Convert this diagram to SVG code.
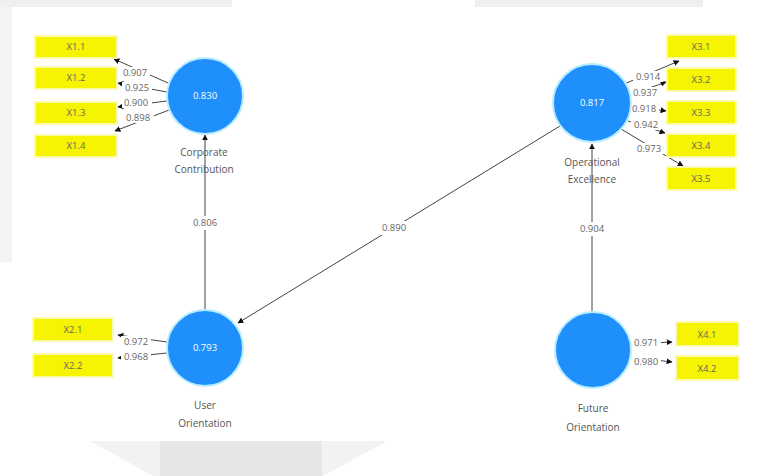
<svg xmlns="http://www.w3.org/2000/svg" width="763" height="476" viewBox="0 0 763 476">
<defs>
<style>
.bg{fill:#efefef}
.lv{fill:#1e8ffb;stroke:#b8ecff;stroke-width:2}
.ind{fill:#f6f400;stroke:#fbfbb0;stroke-width:2}
.t{font-family:"Open Sans","Liberation Sans",sans-serif;font-size:9.5px;fill:#666;text-anchor:middle}
.w{font-family:"Open Sans","Liberation Sans",sans-serif;font-size:9.5px;fill:#ffffff;text-anchor:middle}
.n{font-family:"Open Sans","Liberation Sans",sans-serif;font-size:10px;fill:#555;text-anchor:middle}
.c{stroke:#444;stroke-width:1;fill:none;marker-end:url(#ah)}
.lb{fill:#ffffff}
</style>
<marker id="ah" viewBox="0 0 10 10" refX="9" refY="5" markerWidth="6" markerHeight="6" orient="auto" markerUnits="userSpaceOnUse">
<path d="M0,0 L10,5 L0,10 z" fill="#111"/>
</marker>
</defs>
<rect x="0" y="0" width="763" height="476" fill="#ffffff"/>
<rect class="bg" x="0" y="0" width="232" height="7"/>
<rect class="bg" x="475" y="0" width="228" height="7"/>
<rect x="0" y="7" width="12" height="255" fill="#f4f4f4"/>
<polygon points="90,441 387,441 323,476 153,476" fill="#f2f2f2"/>
<rect x="160" y="441" width="162" height="35" fill="#e6e6e6"/>

<g id="connectors">
<line class="c" x1="205" y1="310" x2="205" y2="135"/>
<line class="c" x1="592" y1="312" x2="592" y2="144"/>
<line class="c" x1="560" y1="126" x2="238" y2="323"/>
<line class="c" x1="168" y1="83" x2="114" y2="59"/>
<line class="c" x1="167" y1="92" x2="118" y2="83"/>
<line class="c" x1="167" y1="101" x2="118" y2="107"/>
<line class="c" x1="169" y1="110" x2="115" y2="131"/>
<line class="c" x1="624" y1="84" x2="679" y2="61"/>
<line class="c" x1="630" y1="95" x2="666" y2="82"/>
<line class="c" x1="631" y1="106" x2="666" y2="111"/>
<line class="c" x1="628" y1="121" x2="665" y2="133"/>
<line class="c" x1="621" y1="129" x2="683" y2="166"/>
<line class="c" x1="167" y1="342" x2="118" y2="335"/>
<line class="c" x1="167" y1="353" x2="118" y2="358"/>
<line class="c" x1="630" y1="344" x2="672" y2="342"/>
<line class="c" x1="630" y1="357" x2="672" y2="362"/>
<rect class="lb" x="190" y="216" width="30" height="14"/>
<text class="t" x="205" y="226">0.806</text>
<rect class="lb" x="577" y="222" width="30" height="14"/>
<text class="t" x="592" y="232">0.904</text>
<rect class="lb" x="379" y="221" width="30" height="14"/>
<text class="t" x="394" y="231">0.890</text>
<rect class="lb" x="120" y="67" width="30" height="11"/>
<text class="t" x="135" y="76">0.907</text>
<rect class="lb" x="122" y="82" width="30" height="11"/>
<text class="t" x="137" y="91">0.925</text>
<rect class="lb" x="122" y="97" width="30" height="11"/>
<text class="t" x="136" y="106">0.900</text>
<rect class="lb" x="124" y="112" width="30" height="11"/>
<text class="t" x="138" y="121">0.898</text>
<rect class="lb" x="633" y="71" width="30" height="11"/>
<text class="t" x="648" y="80">0.914</text>
<rect class="lb" x="630" y="87" width="30" height="11"/>
<text class="t" x="645" y="96">0.937</text>
<rect class="lb" x="629" y="103" width="30" height="11"/>
<text class="t" x="644" y="112">0.918</text>
<rect class="lb" x="631" y="119" width="30" height="11"/>
<text class="t" x="646" y="128">0.942</text>
<rect class="lb" x="634" y="143" width="30" height="11"/>
<text class="t" x="649" y="152">0.973</text>
<rect class="lb" x="121" y="336" width="30" height="11"/>
<text class="t" x="136" y="345">0.972</text>
<rect class="lb" x="121" y="351" width="30" height="11"/>
<text class="t" x="136" y="360">0.968</text>
<rect class="lb" x="631" y="337" width="30" height="11"/>
<text class="t" x="646" y="346">0.971</text>
<rect class="lb" x="631" y="356" width="30" height="11"/>
<text class="t" x="646" y="365">0.980</text>
</g>

<g id="corporate-contribution">
<circle class="lv" cx="205" cy="96" r="38"/>
<text class="w" x="205" y="99">0.830</text>
<text class="n" x="204" y="156">Corporate</text>
<text class="n" x="204" y="173">Contribution</text>
</g>
<g id="operational-excellence">
<circle class="lv" cx="592" cy="103" r="39"/>
<text class="w" x="592" y="106">0.817</text>
<text class="n" x="592" y="166">Operational</text>
<text class="n" x="592" y="183">Excellence</text>
</g>
<g id="user-orientation">
<circle class="lv" cx="205" cy="348" r="38"/>
<text class="w" x="205" y="351">0.793</text>
<text class="n" x="205" y="409">User</text>
<text class="n" x="205" y="427">Orientation</text>
</g>
<g id="future-orientation">
<circle class="lv" cx="593" cy="350" r="38"/>
<text class="n" x="593" y="412">Future</text>
<text class="n" x="593" y="431">Orientation</text>
</g>

<g id="X1.1"><rect class="ind" x="35" y="36" width="82" height="22"/><text class="t" x="76" y="50">X1.1</text></g>
<g id="X1.2"><rect class="ind" x="35" y="67" width="82" height="22"/><text class="t" x="76" y="81">X1.2</text></g>
<g id="X1.3"><rect class="ind" x="35" y="102" width="82" height="22"/><text class="t" x="76" y="116">X1.3</text></g>
<g id="X1.4"><rect class="ind" x="35" y="135" width="82" height="22"/><text class="t" x="76" y="149">X1.4</text></g>

<g id="X2.1"><rect class="ind" x="33" y="318" width="80" height="23"/><text class="t" x="73" y="333">X2.1</text></g>
<g id="X2.2"><rect class="ind" x="33" y="354" width="80" height="23"/><text class="t" x="73" y="369">X2.2</text></g>

<g id="X3.1"><rect class="ind" x="667" y="35" width="69" height="23"/><text class="t" x="701" y="50">X3.1</text></g>
<g id="X3.2"><rect class="ind" x="667" y="68" width="69" height="23"/><text class="t" x="701" y="83">X3.2</text></g>
<g id="X3.3"><rect class="ind" x="667" y="101" width="69" height="23"/><text class="t" x="701" y="116">X3.3</text></g>
<g id="X3.4"><rect class="ind" x="667" y="134" width="69" height="23"/><text class="t" x="701" y="149">X3.4</text></g>
<g id="X3.5"><rect class="ind" x="667" y="167" width="69" height="23"/><text class="t" x="701" y="182">X3.5</text></g>

<g id="X4.1"><rect class="ind" x="676" y="322" width="63" height="24"/><text class="t" x="707" y="338">X4.1</text></g>
<g id="X4.2"><rect class="ind" x="676" y="356" width="63" height="24"/><text class="t" x="707" y="372">X4.2</text></g>
</svg>
